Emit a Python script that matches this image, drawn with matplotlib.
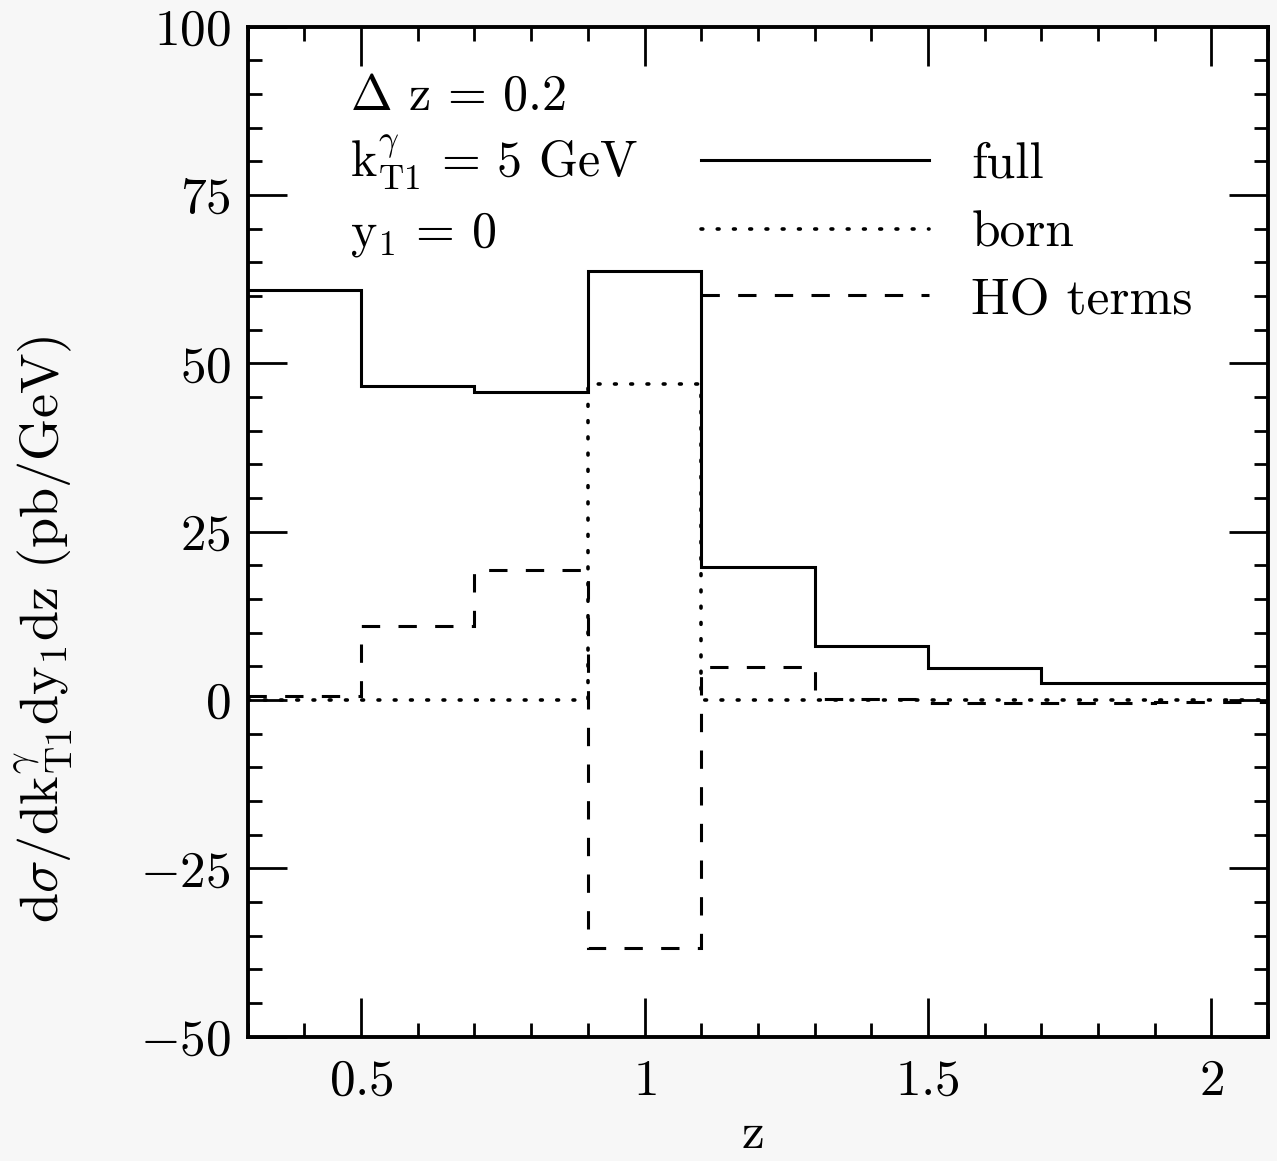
import matplotlib
matplotlib.use("Agg")
import matplotlib.pyplot as plt
from matplotlib.ticker import MultipleLocator, FuncFormatter

plt.rcParams["font.family"] = "cmr10"
plt.rcParams["mathtext.fontset"] = "cm"
plt.rcParams["axes.formatter.use_mathtext"] = True

# bin edges in z and the three histograms (pb/GeV)
z_edges = [0.3, 0.5, 0.7, 0.9, 1.1, 1.3, 1.5, 1.7, 1.9, 2.1]
full = [60.9, 46.6, 45.8, 63.7, 19.7, 8.1, 4.7, 2.6, 2.6]
born = [0.0, 0.0, 0.0, 47.0, 0.0, 0.0, 0.0, 0.0, 0.0]
ho_terms = [0.6, 11.0, 19.3, -36.8, 4.9, 0.1, -0.5, -0.5, -0.3]

series = [("full", full, "-"), ("born", born, ":"), ("HO terms", ho_terms, "--")]
styles = {"-": dict(linestyle="-", linewidth=2.2),
          ":": dict(linestyle=(0, (0.5, 4.0)), linewidth=2.6,
                    capstyle="round"),
          "--": dict(linestyle=(0, (6, 6)), linewidth=2.2)}

fig = plt.figure(figsize=(12.77, 11.61), dpi=100)
ax = fig.add_axes([0.194, 0.107, 0.799, 0.870])

for name, vals, ls in series:
    ax.stairs(vals, z_edges, baseline=None, color="black", **styles[ls])

ax.set_xlim(0.3, 2.1)
ax.set_ylim(-50, 100)

ax.xaxis.set_major_locator(MultipleLocator(0.5))
ax.xaxis.set_minor_locator(MultipleLocator(0.1))
ax.yaxis.set_major_locator(MultipleLocator(25))
ax.yaxis.set_minor_locator(MultipleLocator(5))
fmt = FuncFormatter(lambda v, p: "$%g$" % v)
ax.xaxis.set_major_formatter(fmt)
ax.yaxis.set_major_formatter(fmt)

ax.tick_params(which="both", direction="in", top=True, right=True,
               width=2.0, labelsize=37)
ax.tick_params(which="major", length=28)
ax.tick_params(which="minor", length=10)
ax.tick_params(axis="x", pad=16)
ax.tick_params(axis="y", pad=12)
for s in ax.spines.values():
    s.set_linewidth(2.8)

# parameter labels
tx = 0.100
ax.text(tx, 0.918, r"$\Delta$ z = 0.2", transform=ax.transAxes,
        fontsize=36, va="baseline")
ax.text(tx, 0.851, r"k$^{\gamma}_{\rm T1}$ = 5 GeV", transform=ax.transAxes,
        fontsize=36, va="baseline")
ax.text(tx, 0.782, r"y$_1$ = 0", transform=ax.transAxes,
        fontsize=36, va="baseline")

# hand-drawn legend
line_y = [0.868, 0.800, 0.734]
text_y = [0.851, 0.782, 0.716]
for (name, vals, ls), ly, ty in zip(series, line_y, text_y):
    kw = dict(styles[ls])
    cap = kw.pop("capstyle", None)
    ln, = ax.plot([0.444, 0.668], [ly, ly], transform=ax.transAxes,
                  color="black", **kw)
    if cap:
        ln.set_dash_capstyle(cap)
    ax.text(0.709, ty, name, transform=ax.transAxes, fontsize=37,
            va="baseline")

fig.text(0.590, 0.022, "z", fontsize=37, ha="center", va="center")
fig.text(0.035, 0.458,
         r"d$\sigma$/dk$^{\gamma}_{\rm T1}$dy$_1$dz (pb/GeV)",
         rotation=90, fontsize=39, ha="center", va="center")

fig.savefig("out.png", dpi=100, facecolor="#f7f7f7")
